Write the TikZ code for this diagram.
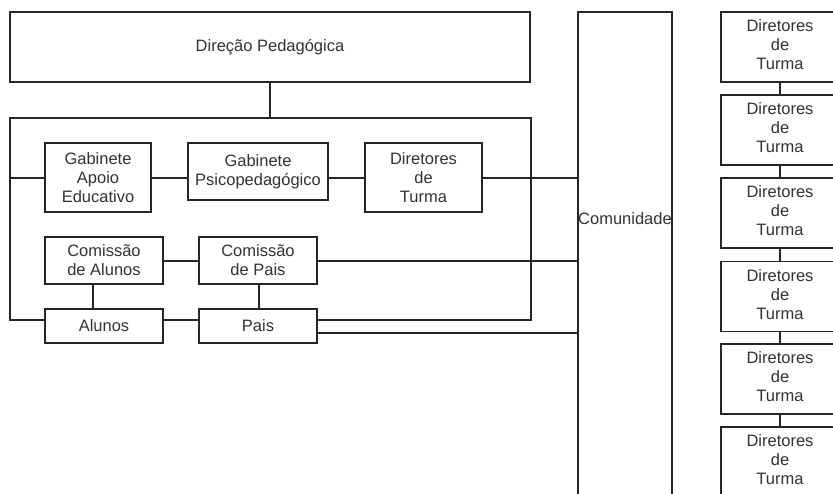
\documentclass[tikz,border=0pt]{standalone}
\usepackage{fontspec}
\setmainfont{Liberation Sans}
\begin{document}
\begin{tikzpicture}[x=1pt,y=-1pt,
  box/.style={draw=black!85, line width=1.1pt, fill=white, inner sep=0pt, align=center,
    font=\fontsize{16.5}{19}\selectfont, text=black!80},
  link/.style={draw=black!85, line width=1.1pt}]
\useasboundingbox (0,0) rectangle (833,494);
\clip (0,0) rectangle (833,494);
\fill[white] (0,0) rectangle (833,494);
% container
\node[box, minimum width=521pt, minimum height=202pt] (cont) at (270.5,219) {};
\node[box, minimum width=520pt, minimum height=70pt] (dp) at (270,47) {Direção Pedagógica};
\node[box, minimum width=94pt, minimum height=498pt] (com) at (625,261) {};
\node[font=\fontsize{16.5}{19}\selectfont, text=black!80, inner sep=0pt] (comlabel) at (625,219) {Comunidade};
% inner boxes
\node[box, minimum width=106pt, minimum height=69pt] (gae) at (98,177.5) {Gabinete\\Apoio\\Educativo};
\node[box, minimum width=140pt, minimum height=57pt] (gp) at (258,171.5) {Gabinete\\Psicopedagógico};
\node[box, minimum width=117pt, minimum height=69pt] (dt) at (423.5,177.5) {Diretores\\de\\Turma};
\node[box, minimum width=118pt, minimum height=47pt] (ca) at (104,260.5) {Comissão\\de Alunos};
\node[box, minimum width=118pt, minimum height=47pt] (cp) at (258,260.5) {Comissão\\de Pais};
\node[box, minimum width=118pt, minimum height=34pt] (al) at (104,326) {Alunos};
\node[box, minimum width=118pt, minimum height=34pt] (pa) at (258,326) {Pais};
% right column (boxes run past the right edge of the picture)
\foreach \i/\yy in {1/47,2/130,3/213,4/296.5,5/379,6/462}{
  \node[box, minimum width=158pt, minimum height=70pt] (r\i) at (800,\yy)
    {\raisebox{-2.5pt}{\begin{tabular}{@{}c@{}}Diretores\\de\\Turma\end{tabular}}\hspace{40pt}};
}
% connectors
\coordinate (lvl1) at (0,178);
\coordinate (lvl2) at (0,261);
\coordinate (lvl3) at (0,333);
\draw[link] (dp.south) -- (dp.south |- cont.north);
\draw[link] (cont.west |- lvl1) -- (gae.west |- lvl1);
\draw[link] (gae.east |- lvl1) -- (gp.west |- lvl1);
\draw[link] (gp.east |- lvl1) -- (dt.west |- lvl1);
\draw[link] (dt.east |- lvl1) -- (com.west |- lvl1);
\draw[link] (ca.east |- lvl2) -- (cp.west |- lvl2);
\draw[link] (cp.east |- lvl2) -- (com.west |- lvl2);
\draw[link] ([xshift=-11pt]ca.south) -- ([xshift=-11pt]al.north);
\draw[link] ([xshift=1pt]cp.south) -- ([xshift=1pt]pa.north);
\draw[link] (pa.east |- lvl3) -- (com.west |- lvl3);
\foreach \a/\b in {1/2,2/3,3/4,4/5,5/6}{
  \draw[link] ([xshift=-20pt]r\a.south) -- ([xshift=-20pt]r\b.north);
}
\end{tikzpicture}
\end{document}
